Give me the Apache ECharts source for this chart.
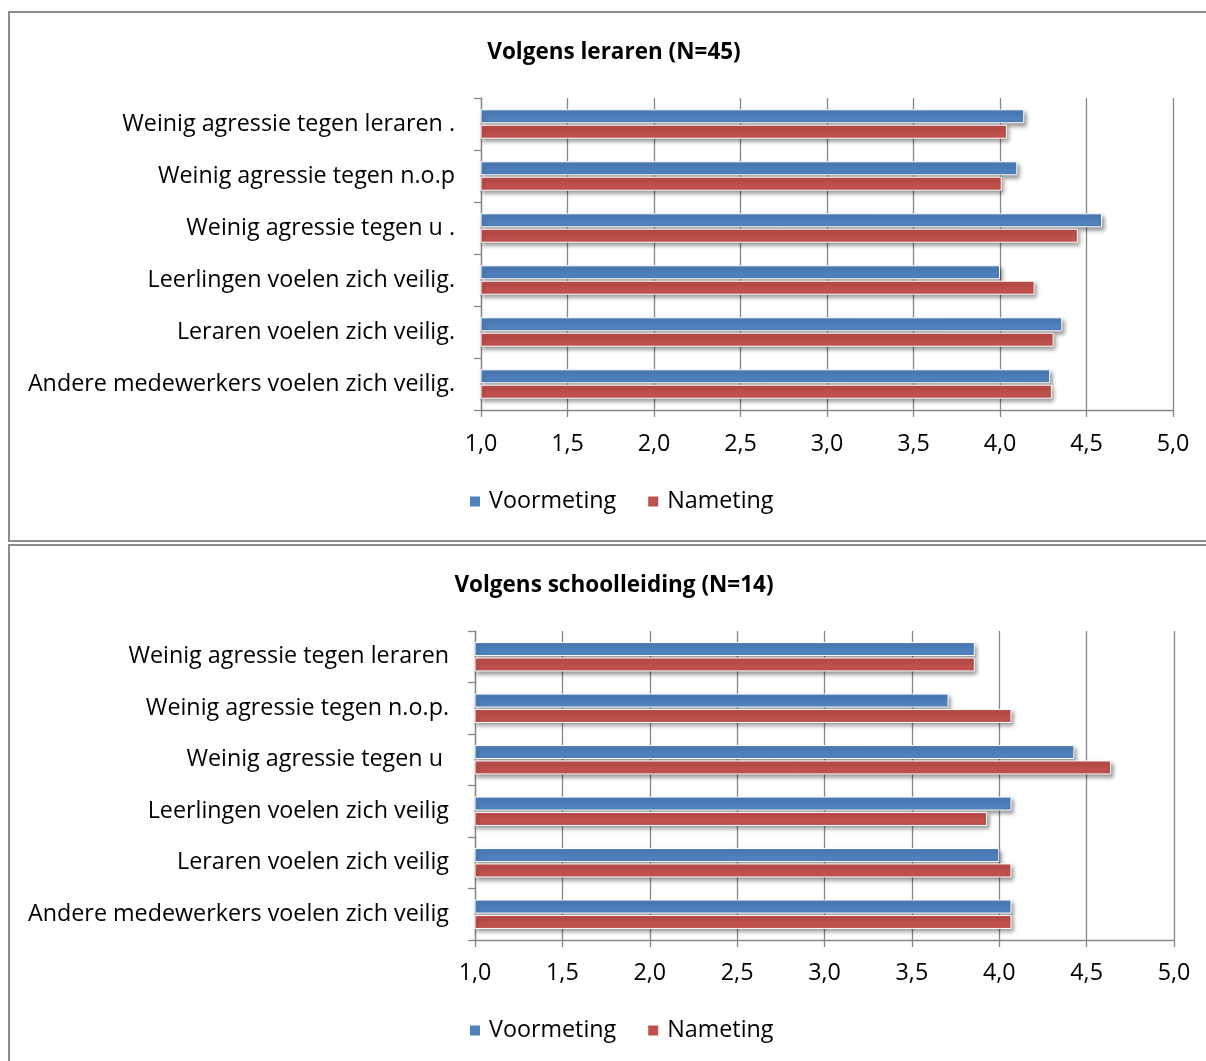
<!DOCTYPE html>
<html>
<head>
<meta charset="utf-8">
<script src="https://cdn.jsdelivr.net/npm/echarts@6/dist/echarts.min.js"></script>
<style>
html,body{margin:0;padding:0;background:#fff;}
#c{width:1206px;height:1061px;}
</style>
</head>
<body>
<div id="c"></div>
<script>
const seriesNames = ['Voormeting', 'Nameting'];
const titleTop = 'Volgens leraren (N=45)';
const titleBottom = 'Volgens schoolleiding (N=14)';
const categoriesTop = [
  'Weinig agressie tegen leraren .',
  'Weinig agressie tegen n.o.p',
  'Weinig agressie tegen u .',
  'Leerlingen voelen zich veilig.',
  'Leraren voelen zich veilig.',
  'Andere medewerkers voelen zich veilig.'
];
const voormetingTop = [4.14, 4.10, 4.59, 4.00, 4.36, 4.29];
const nametingTop   = [4.04, 4.01, 4.45, 4.20, 4.31, 4.30];

const categoriesBottom = [
  'Weinig agressie tegen leraren',
  'Weinig agressie tegen n.o.p.',
  'Weinig agressie tegen u ',
  'Leerlingen voelen zich veilig',
  'Leraren voelen zich veilig',
  'Andere medewerkers voelen zich veilig'
];
const voormetingBottom = [3.86, 3.71, 4.43, 4.07, 4.00, 4.07];
const nametingBottom   = [3.86, 4.07, 4.64, 3.93, 4.07, 4.07];

const xMin = 1, xMax = 5, xStep = 0.5;

const FONT = 'Open Sans';
const FS = 23.3;
const GRAY = '#868686';
const BLUE = '#4F81BD';
const RED = '#C0504D';

const chart = echarts.init(document.getElementById('c'), null, {renderer: 'canvas'});

function xAxisDef(gridIndex, margin) {
  return {
    type: 'value', gridIndex, min: xMin, max: xMax, interval: xStep,
    axisLine: {show: true, lineStyle: {color: GRAY, width: 1.3}},
    axisTick: {show: true, length: 7, lineStyle: {color: GRAY, width: 1.3}},
    splitLine: {show: true, lineStyle: {color: GRAY, width: 1.3}},
    axisLabel: {
      margin, color: '#000', fontFamily: FONT, fontSize: FS,
      formatter: v => v.toFixed(1).replace('.', ',')
    }
  };
}
function yAxisDef(gridIndex, cats) {
  return {
    type: 'category', gridIndex, data: cats, inverse: true,
    axisLine: {show: true, lineStyle: {color: GRAY, width: 1.3}},
    axisTick: {show: true, length: 7, alignWithLabel: false, lineStyle: {color: GRAY, width: 1.3}},
    axisLabel: {margin: 26, color: '#000', fontFamily: FONT, fontSize: FS},
    splitLine: {show: false}
  };
}
function barStyle(color) {
  return {
    color, borderColor: '#ffffff', borderWidth: 1,
    shadowBlur: 4, shadowOffsetX: 2, shadowOffsetY: 3, shadowColor: 'rgba(0,0,0,0.4)'
  };
}
function barSeries(name, idx, data, color) {
  return {
    name, type: 'bar', xAxisIndex: idx, yAxisIndex: idx, data,
    barWidth: 14, barGap: '10%', itemStyle: barStyle(color),
    emphasis: {disabled: true}
  };
}
function legendDef(top) {
  return {
    data: seriesNames, left: 468, top, padding: 0, itemWidth: 12, itemHeight: 12, itemGap: 30,
    icon: 'rect', textStyle: {fontFamily: FONT, fontSize: FS, color: '#000', padding: [0, 0, 0, 3]}
  };
}

chart.setOption({
  animation: false,
  backgroundColor: '#fff',
  title: [
    {text: titleTop, left: 609, top: 36, textAlign: 'center',
     textStyle: {fontFamily: FONT, fontSize: 22.5, fontWeight: 'bold', color: '#000'}},
    {text: titleBottom, left: 609, top: 569, textAlign: 'center',
     textStyle: {fontFamily: FONT, fontSize: 22.5, fontWeight: 'bold', color: '#000'}}
  ],
  legend: [legendDef(490), legendDef(1019)],
  grid: [
    {left: 481, right: 33, top: 98, height: 312},
    {left: 475, right: 32, top: 631, height: 309}
  ],
  xAxis: [xAxisDef(0, 23), xAxisDef(1, 22)],
  yAxis: [yAxisDef(0, categoriesTop), yAxisDef(1, categoriesBottom)],
  series: [
    barSeries(seriesNames[0], 0, voormetingTop, BLUE),
    barSeries(seriesNames[1], 0, nametingTop, RED),
    barSeries(seriesNames[0], 1, voormetingBottom, BLUE),
    barSeries(seriesNames[1], 1, nametingBottom, RED)
  ],
  graphic: [
    {type: 'rect', silent: true, z: -1, shape: {x: 9, y: 12, width: 1230, height: 529},
     style: {fill: 'none', stroke: '#8c8c8c', lineWidth: 2}},
    {type: 'rect', silent: true, z: -1, shape: {x: 9, y: 545, width: 1230, height: 600},
     style: {fill: 'none', stroke: '#8c8c8c', lineWidth: 2}}
  ]
});
</script>
</body>
</html>
